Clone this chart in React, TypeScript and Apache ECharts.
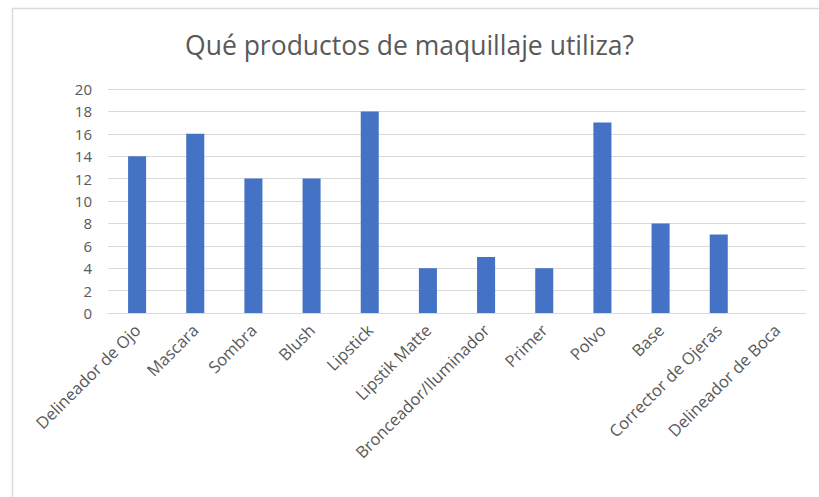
import React, { useEffect, useRef } from "react";
import * as echarts from "echarts";

const categories = [
  "Delineador de Ojo",
  "Mascara",
  "Sombra",
  "Blush",
  "Lipstick",
  "Lipstik Matte",
  "Bronceador/Iluminador",
  "Primer",
  "Polvo",
  "Base",
  "Corrector de Ojeras",
  "Delineador de Boca",
];
const values = [14, 16, 12, 12, 18, 4, 5, 4, 17, 8, 7, 0];
const titleText = "Qué productos de maquillaje utiliza?";

export default function App() {
  const ref = useRef<HTMLDivElement>(null);
  useEffect(() => {
    if (!ref.current) return;
    const chart = echarts.init(ref.current, undefined, { renderer: "svg" });
    const font = "'Open Sans', 'Noto Sans', sans-serif";
    chart.setOption({
      animation: false,
      backgroundColor: "#ffffff",
      title: {
        text: titleText,
        left: "center",
        top: 26,
        textStyle: { fontFamily: font, fontSize: 26.5, fontWeight: "normal", color: "#595959" },
      },
      graphic: [
        {
          type: "rect",
          left: 10,
          top: 6,
          shape: { x: 0, y: 0, width: 830, height: 500 },
          style: { fill: "none", stroke: "#d9d9d9", lineWidth: 1.5 },
          silent: true,
        },
      ],
      grid: { left: 108, right: 13, top: 89, bottom: 184, containLabel: false },
      xAxis: {
        type: "category",
        data: categories,
        axisLine: { lineStyle: { color: "#d9d9d9" } },
        axisTick: { show: false },
        axisLabel: {
          rotate: 45,
          interval: 0,
          color: "#595959",
          fontFamily: font,
          fontSize: 16.5,
          margin: 14,
        },
      },
      yAxis: {
        type: "value",
        min: 0,
        max: 20,
        interval: 2,
        axisLine: { show: false },
        axisTick: { show: false },
        splitLine: { lineStyle: { color: "#d9d9d9" } },
        axisLabel: { color: "#595959", fontFamily: font, fontSize: 15, margin: 16 },
      },
      series: [
        {
          type: "bar",
          data: values,
          barCategoryGap: "69%",
          itemStyle: { color: "#4472C4" },
        },
      ],
    });
    return () => chart.dispose();
  }, []);
  return (
    <div
      ref={ref}
      style={{ position: "absolute", left: 0, top: 0, width: 819, height: 497 }}
    />
  );
}
